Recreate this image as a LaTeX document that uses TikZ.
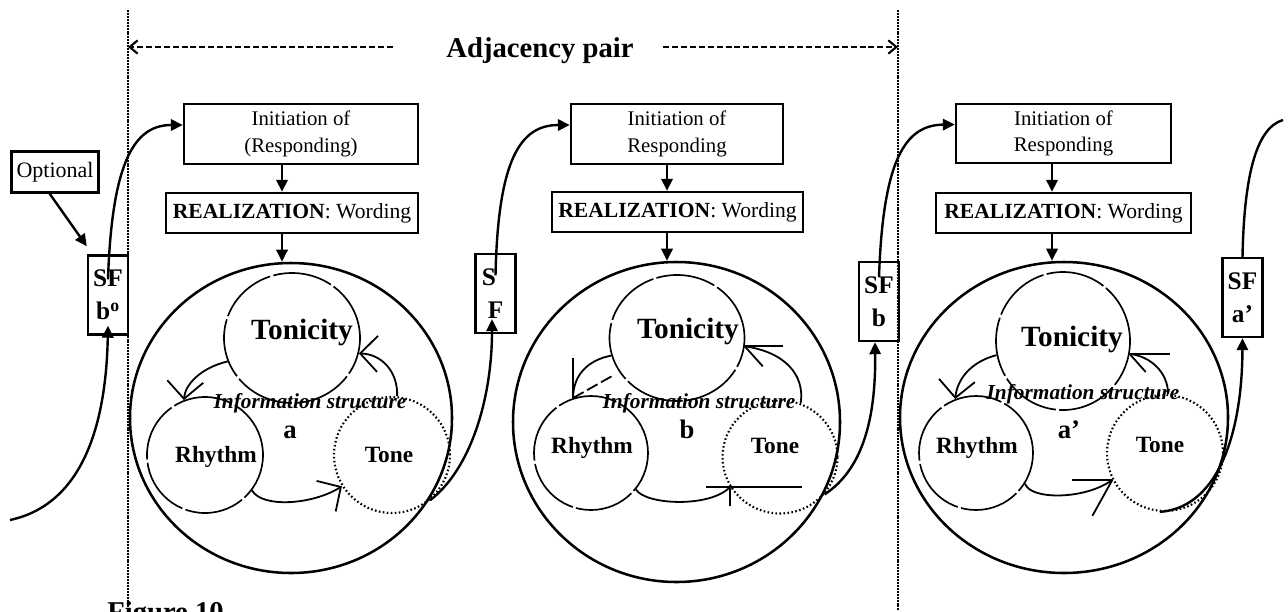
\documentclass[tikz,border=0pt]{standalone}
\usepackage{fontspec}
\setmainfont{Liberation Serif}
\usetikzlibrary{arrows.meta,shapes.geometric}
\tikzset{
  bx/.style={draw, line width=1.8pt, inner sep=0pt, align=center, font=\fontsize{15.6}{20}\selectfont},
  sfbx/.style={draw, line width=1.8pt, inner sep=0pt, align=center, minimum width=30pt, minimum height=59.25pt, font=\fontsize{19}{25}\selectfont\bfseries},
  bigc/.style={draw, ellipse, line width=1.9pt, inner sep=0pt},
  inc/.style={draw, ellipse, line width=1.25pt, inner sep=0pt, dash pattern=on 45pt off 2.5pt},
  tonec/.style={draw, ellipse, line width=1.6pt, inner sep=0pt, dash pattern=on 1.2pt off 1.8pt},
  tonT/.style={anchor=base, inner sep=0pt, font=\fontsize{22}{24}\selectfont\bfseries},
  rhyT/.style={anchor=base, inner sep=0pt, font=\fontsize{17.5}{20}\selectfont\bfseries},
  letT/.style={anchor=base, inner sep=0pt, font=\fontsize{20}{22}\selectfont\bfseries},
  infT/.style={anchor=base, inner sep=0pt, font=\fontsize{16}{18}\selectfont\bfseries\itshape},
  conn/.style={line width=1.8pt},
  tri/.style={-{Triangle[length=9pt,width=8.5pt]}},
  arcl/.style={line width=1.35pt},
  vtip/.style={-{Straight Barb[length=13pt,width=27pt,line width=1.35pt]}},
  vline/.style={line width=1.5pt, dash pattern=on 1.5pt off 0.7pt},
  dasharr/.style={line width=1.6pt, dash pattern=on 4.5pt off 2.2pt, -{Straight Barb[length=6pt,width=10pt,line width=1.6pt]}}
}
\begin{document}
\begin{tikzpicture}[x=0.75pt,y=-0.75pt]
\useasboundingbox (0,0) rectangle (1288,611);
\fill[white] (0,0) rectangle (1288,611);

% vertical dotted lines
\coordinate (vl1) at (128,10);
\coordinate (vl1b) at (128,611);
\coordinate (vl2) at (898,10);
\coordinate (vl2b) at (898,611);
\draw[vline] (vl1) -- (vl1b);
\draw[vline] (vl2) -- (vl2b);

% adjacency pair
\node[anchor=base, inner sep=0pt, font=\fontsize{21.5}{24}\selectfont\bfseries] (adj) at (540,57) {Adjacency pair};
\coordinate (dl) at (393,47);
\coordinate (dr) at (663,47);
\draw[dasharr] (dl) -- (dl -| vl1);
\draw[dasharr] (dr) -- (dr -| vl2);

% column coordinates
\coordinate (col1) at (282,0);
\coordinate (col2) at (667,0);
\coordinate (col3) at (1052,0);

% top boxes
\node[bx, minimum width=175.5pt, minimum height=45pt] (I1) at (301,134) {Initiation of\\(Responding)};
\node[bx, minimum width=159pt, minimum height=45pt] (I2) at (677,134) {Initiation of\\Responding};
\node[bx, minimum width=161.25pt, minimum height=44.25pt] (I3) at (1063.5,133.5) {Initiation of\\Responding};

\node[bx, font=\fontsize{16.2}{18}\selectfont, minimum width=189pt, minimum height=30pt] (R1) at (292,213) {\textbf{REALIZATION}: Wording};
\node[bx, font=\fontsize{16.2}{18}\selectfont, minimum width=188.25pt, minimum height=30pt] (R2) at (677.5,212) {\textbf{REALIZATION}: Wording};
\node[bx, font=\fontsize{16.2}{18}\selectfont, minimum width=191.25pt, minimum height=30pt] (R3) at (1063.5,213) {\textbf{REALIZATION}: Wording};

% big circles
\node[bigc, minimum width=241.5pt, minimum height=232.5pt] (B1) at (291,418) {};
\node[bigc, minimum width=245.25pt, minimum height=240pt] (B2) at (676.5,422) {};
\node[bigc, minimum width=246pt, minimum height=233.25pt] (B3) at (1064,417.5) {};

\draw[conn,tri] (I1.south -| col1) -- (R1.north -| col1);
\draw[conn,tri] (I2.south -| col2) -- (R2.north -| col2);
\draw[conn,tri] (I3.south -| col3) -- (R3.north -| col3);
\draw[conn,tri] (R1.south -| col1) -- (B1.north -| col1);
\draw[conn,tri] (R2.south -| col2) -- (B2.north -| col2);
\draw[conn,tri] (R3.south -| col3) -- (B3.north -| col3);

% inner circles
\node[inc, minimum width=102pt, minimum height=97.5pt] (Ton1) at (292,338) {};
\node[inc, minimum width=87pt, minimum height=87pt] (Rhy1) at (205,455) {};
\node[tonec, minimum width=87pt, minimum height=87pt] (Tone1) at (392,455) {};
\node[inc, minimum width=101.25pt, minimum height=94.5pt] (Ton2) at (677,338) {};
\node[inc, minimum width=85.5pt, minimum height=85.5pt] (Rhy2) at (591,453) {};
\node[tonec, minimum width=86.25pt, minimum height=84.75pt] (Tone2) at (780,457) {};
\node[inc, minimum width=100.5pt, minimum height=103.5pt] (Ton3) at (1063,341) {};
\node[inc, minimum width=85.5pt, minimum height=85.5pt] (Rhy3) at (976,453) {};
\node[tonec, minimum width=87pt, minimum height=87pt] (Tone3) at (1165,453) {};

% texts in circles
\node[tonT] (tt1) at (302,339) {Tonicity};
\node[rhyT] (rt1) at (216,462) {Rhythm};
\node[rhyT] (ot1) at (389,462) {Tone};
\node[letT] (lt1) at (290,438) {a};
\node[infT] (it1) at (310,408) {Information structure};

\node[tonT] (tt2) at (688,338) {Tonicity};
\node[rhyT] (rt2) at (592,453) {Rhythm};
\node[rhyT] (ot2) at (775,453) {Tone};
\node[letT] (lt2) at (687,438) {b};
\node[infT] (it2) at (699,408) {Information structure};

\node[tonT] (tt3) at (1072,346) {Tonicity};
\node[rhyT] (rt3) at (977,453) {Rhythm};
\node[rhyT] (ot3) at (1160,452) {Tone};
\node[letT] (lt3) at (1069,438) {a’};
\node[infT] (it3) at (1083,399) {Information structure};

% inner arcs circle 1
\draw[arcl,vtip] (Ton1.200) .. controls (200,368) and (185,385) .. (Rhy1.111);
\draw[arcl,vtip] (Tone1.85) .. controls (398,372) and (382,354) .. (Ton1.-13);
\draw[arcl,vtip] (Rhy1.-37) .. controls (262,508) and (312,505) .. (Tone1.212);

% inner arcs circle 2
\draw[arcl] (Ton2.195) .. controls (588,360) and (573,375) .. (Rhy2.108);
\draw[arcl] (Rhy2.108) -- ++(0,-40);
\draw[arcl, dash pattern=on 9pt off 3pt] (Rhy2.108) -- ++(39,-22);
\draw[arcl] (Tone2.69) .. controls (805,375) and (785,352) .. (Ton2.-7);
\draw[arcl] (Ton2.-7) -- ++(38,0);
\draw[arcl] (Ton2.-7) -- ++(18,20);
\draw[arcl] (Rhy2.-39) .. controls (645,505) and (710,508) .. (Tone2.211);
\draw[arcl] (Tone2.211) ++(-24,0) -- ++(96,0);
\draw[arcl] (Tone2.211) -- ++(0,19);

% inner arcs circle 3
\draw[arcl,vtip] (Ton3.192) .. controls (970,362) and (957,380) .. (Rhy3.111);
\draw[arcl] (Tone3.87) .. controls (1168,372) and (1150,356) .. (Ton3.-11);
\draw[arcl] (Ton3.-11) -- ++(40,0);
\draw[arcl] (Ton3.-11) -- ++(16,18);
\draw[arcl] (Rhy3.-32) .. controls (1030,500) and (1085,500) .. (Tone3.207);
\draw[arcl] (Tone3.207) -- ++(-40,0);
\draw[arcl] (Tone3.207) -- ++(-20,36);

% SF boxes
\node[sfbx] (SF0) at (108,295) {SF\\b\textsuperscript{o}};
\node[sfbx] (SF1) at (495.5,293.5) {S\hspace*{10pt}\\F};
\node[sfbx] (SF2) at (879,301.5) {SF\\b};
\node[sfbx] (SF3) at (1242.5,297.5) {SF\\a’};

\node[bx, minimum width=65.25pt, minimum height=30.75pt, font=\fontsize{16.5}{18}\selectfont] (opt) at (55,172) {Optional};
\draw[conn,tri] ([xshift=-4pt]opt.south) -- ([yshift=6pt]SF0.north west);

% main curves
\coordinate (a0) at (10,520);
\draw[conn,tri] (a0) .. controls (80,505) and (106,430) .. ([yshift=7.5pt]SF0.south);
\draw[conn,tri] ([yshift=-18.75pt]SF0.north) .. controls (112,160) and (135,125) .. ([yshift=6.75pt]I1.west);
\draw[conn,tri] (Tone1.-50) .. controls (470,470) and (492,400) .. ([xshift=-2.6pt,yshift=11.25pt]SF1.south);
\draw[conn,tri] ([yshift=-17pt]SF1.north) .. controls (498,160) and (520,125) .. ([yshift=6.75pt]I2.west);
\draw[conn,tri] (Tone2.-40) .. controls (862,470) and (876,420) .. ([xshift=-3pt]SF2.south);
\draw[conn,tri] ([yshift=-12pt]SF2.north) .. controls (883,160) and (905,125) .. ([yshift=6.75pt]I3.west);
\draw[conn,tri] (Tone3.-95) .. controls (1215,508) and (1242,440) .. (SF3.south);
\coordinate (h1) at (1283,120);
\draw[conn] (SF3.north) .. controls (1244,180) and (1255,128) .. (h1);

% caption (cut off at the lower edge, as in the reference)
\node[anchor=base west, inner sep=0pt, font=\fontsize{21.5}{24}\selectfont\bfseries] (fig) at (107,621) {Figure 10};
\end{tikzpicture}
\end{document}
